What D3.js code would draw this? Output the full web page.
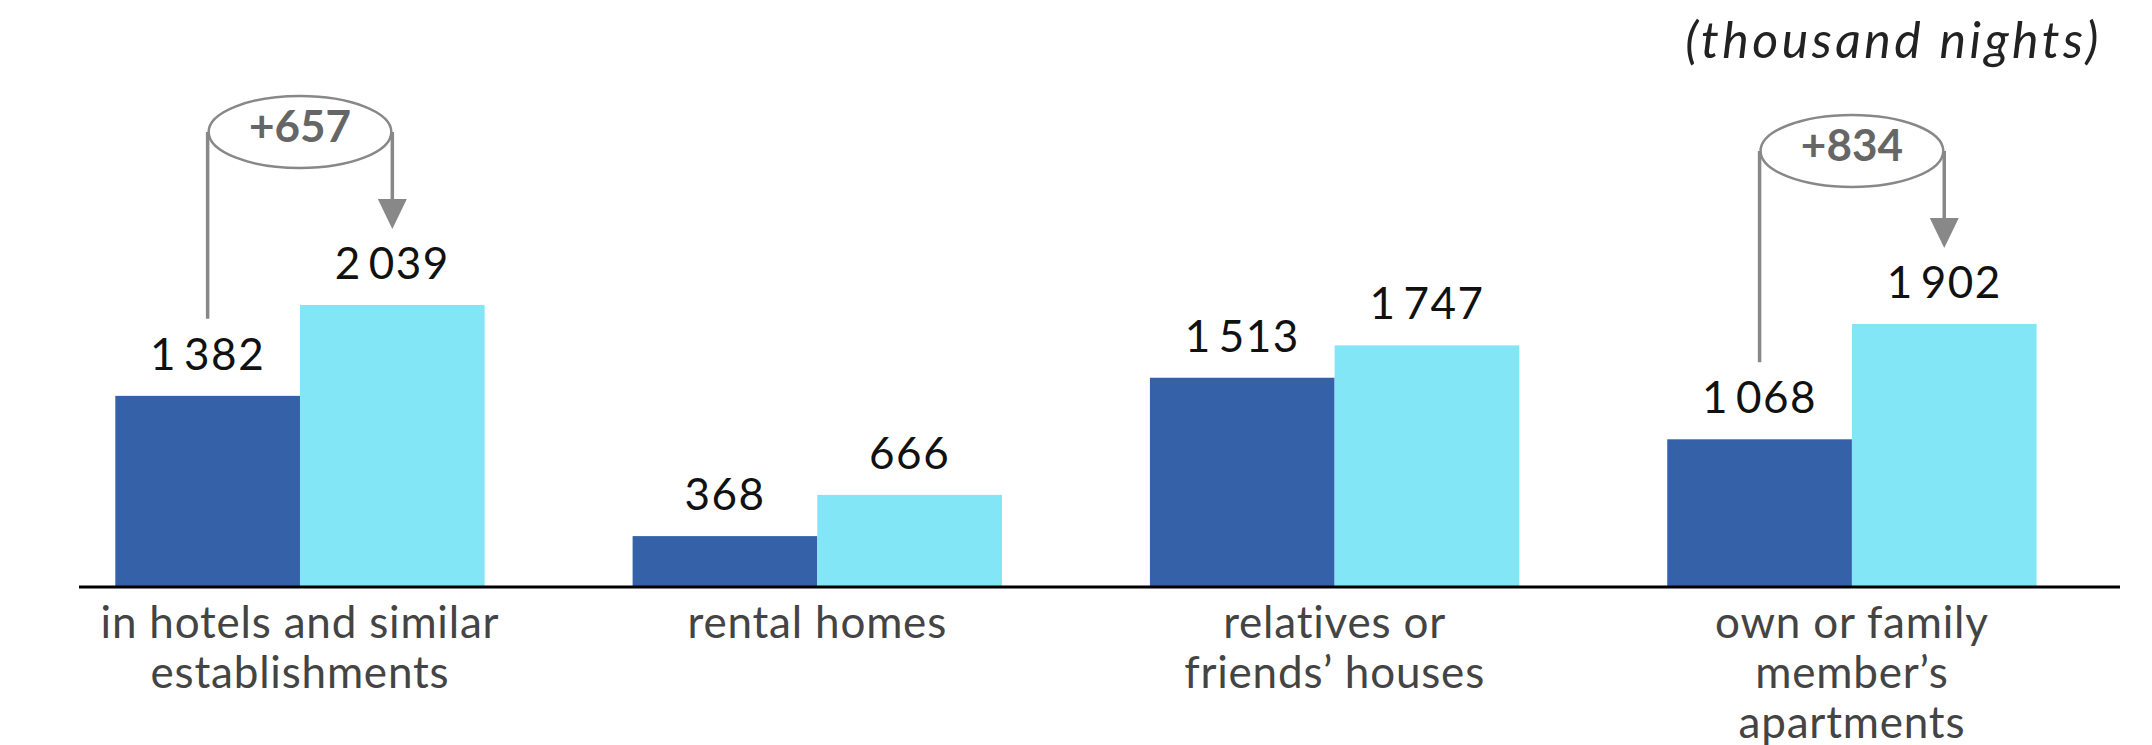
<!DOCTYPE html>
<html>
<head>
<meta charset="utf-8">
<script src="https://cdn.jsdelivr.net/npm/d3@7"></script>
<style>
  body { margin: 0; background: #fff; }
  svg { display: block; }
  text { font-family: Lato, "Noto Sans", sans-serif; }
</style>
</head>
<body>
<div id="chart"></div>
<script>
// nights by type of accommodation, thousand
var categories = [
  ["in hotels and similar", "establishments"],
  ["rental homes"],
  ["relatives or", "friends\u2019 houses"],
  ["own or family", "member\u2019s", "apartments"]
];
var previous = [1382, 368, 1513, 1068];
var current  = [2039, 666, 1747, 1902];
var annotated = [0, 3];   // groups with the change bubble
var unitLabel = "(thousand nights)";

var width = 2152, height = 745;
var baseY = 587;
var darkColor = "#3561a9", lightColor = "#82e6f7", annoColor = "#888";

var fmt = d3.formatLocale({ decimal: ".", thousands: "\u2009", grouping: [3], currency: ["", ""] }).format(",d");

var svg = d3.select("#chart").append("svg")
  .attr("width", width)
  .attr("height", height);

var x = d3.scaleBand()
  .domain(d3.range(categories.length))
  .range([115.3, 2036.6])
  .paddingInner(0.286)
  .paddingOuter(0);

var xSub = d3.scaleBand()
  .domain([0, 1])
  .range([0, x.bandwidth()]);

var y = d3.scaleLinear()
  .domain([0, 2039])
  .range([baseY, 305]);

var rows = categories.map(function(c, i) {
  return { i: i, values: [previous[i], current[i]] };
});

var groups = svg.selectAll("g.group")
  .data(rows).enter()
  .append("g")
  .attr("class", "group")
  .attr("transform", function(d) { return "translate(" + x(d.i) + ",0)"; });

groups.selectAll("rect")
  .data(function(d) { return d.values; }).enter()
  .append("rect")
  .attr("x", function(v, k) { return xSub(k); })
  .attr("width", xSub.bandwidth())
  .attr("y", function(v) { return y(v); })
  .attr("height", function(v) { return baseY - y(v); })
  .attr("fill", function(v, k) { return k === 0 ? darkColor : lightColor; });

groups.selectAll("text.value")
  .data(function(d) { return d.values; }).enter()
  .append("text")
  .attr("class", "value")
  .attr("x", function(v, k) { return xSub(k) + xSub.bandwidth() / 2; })
  .attr("y", function(v) { return y(v) - 26; })
  .attr("text-anchor", "middle")
  .attr("font-size", 44)
  .attr("letter-spacing", 1.5)
  .attr("fill", "#111")
  .text(function(v) { return fmt(v); });

// axis line
svg.append("line")
  .attr("x1", 79).attr("x2", 2120)
  .attr("y1", baseY).attr("y2", baseY)
  .attr("stroke", "#000")
  .attr("stroke-width", 3);

// category labels
groups.append("text")
  .attr("class", "cat")
  .attr("text-anchor", "middle")
  .attr("font-size", 44)
  .attr("letter-spacing", 0.8)
  .attr("fill", "#444")
  .selectAll("tspan")
  .data(function(d) { return categories[d.i]; }).enter()
  .append("tspan")
  .attr("x", x.bandwidth() / 2)
  .attr("y", function(t, j) { return 638 + j * 50; })
  .text(function(t) { return t; });

// unit label
svg.append("text")
  .attr("x", 2102)
  .attr("y", 58)
  .attr("text-anchor", "end")
  .attr("font-size", 50)
  .attr("letter-spacing", 3.5)
  .attr("font-style", "italic")
  .attr("fill", "#222")
  .text(unitLabel);

// change annotations
annotated.forEach(function(i) {
  var g = svg.append("g").attr("transform", "translate(" + x(i) + ",0)");
  var x0 = xSub(0) + xSub.bandwidth() / 2,
      x1 = xSub(1) + xSub.bandwidth() / 2,
      tip = y(current[i]) - 76,
      cy = tip - 97,
      cx = (x0 + x1) / 2;

  g.append("line")
    .attr("x1", x0).attr("x2", x0)
    .attr("y1", cy).attr("y2", y(previous[i]) - 77)
    .attr("stroke", annoColor).attr("stroke-width", 3.5);

  g.append("line")
    .attr("x1", x1).attr("x2", x1)
    .attr("y1", cy).attr("y2", tip - 28)
    .attr("stroke", annoColor).attr("stroke-width", 3.5);

  g.append("path")
    .attr("d", d3.line()([[x1 - 14.5, tip - 30], [x1 + 14.5, tip - 30], [x1, tip]]) + "Z")
    .attr("fill", annoColor);

  g.append("ellipse")
    .attr("cx", cx).attr("cy", cy)
    .attr("rx", (x1 - x0) / 2 - 1).attr("ry", 36)
    .attr("fill", "#fff")
    .attr("stroke", annoColor)
    .attr("stroke-width", 2.5);

  g.append("text")
    .attr("x", cx).attr("y", cy + 10)
    .attr("text-anchor", "middle")
    .attr("font-size", 44)
    .attr("font-weight", "bold")
    .attr("fill", "#666")
    .text(d3.format("+d")(current[i] - previous[i]));
});
</script>
</body>
</html>
